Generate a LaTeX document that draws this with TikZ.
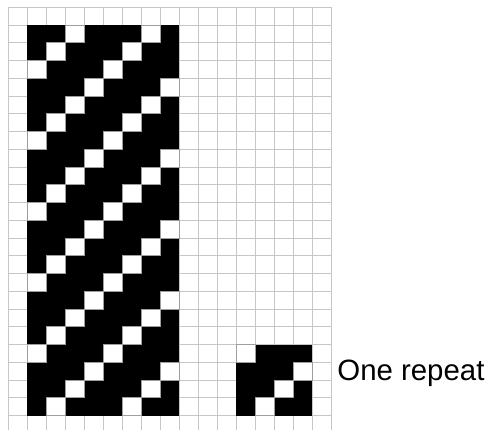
\documentclass[tikz,border=0pt]{standalone}
\usepackage{fontspec}
\setmainfont{Liberation Sans}
\definecolor{gridgray}{RGB}{198,198,198}
\begin{document}
\begin{tikzpicture}[x=9.5pt, y=-8.875pt,
    gridline/.style={draw=gridgray, line width=0.5pt},
    cellwhite/.style={fill=white, draw=gridgray!80!black, line width=0.5pt}]
    \useasboundingbox (-0.437,-0.411) rectangle (25.3,23.76);
    \clip (-0.437,-0.411) rectangle (25.3,23.76);
    % grid paper
    \foreach \i in {0,...,17}
        \draw[gridline] (\i,0) -- (\i,24);
    \foreach \j in {0,...,23}
        \draw[gridline] (0,\j) -- (17,\j);
    % the draft, 8 x 22
    \fill (1,1) rectangle (9,23);
    \foreach \r in {1,...,22}
        \foreach \c in {1,...,8}
            {\pgfmathtruncatemacro{\m}{mod(\c+\r,4)}
             \ifnum\m=0 \draw[cellwhite] (\c,\r) rectangle ++(1,1); \fi}
    % one repeat, 4 x 4
    \fill (12,19) rectangle (16,23);
    \foreach \r in {19,...,22}
        \foreach \c in {1,...,4}
            {\pgfmathtruncatemacro{\m}{mod(\c+\r,4)}
             \ifnum\m=0 \draw[cellwhite] (\c+11,\r) rectangle ++(1,1); \fi}
    \node[anchor=base west, inner sep=0pt, font=\fontsize{14.7}{17}\selectfont] (repeat) at (17.3,21) {One repeat};
\end{tikzpicture}
\end{document}
